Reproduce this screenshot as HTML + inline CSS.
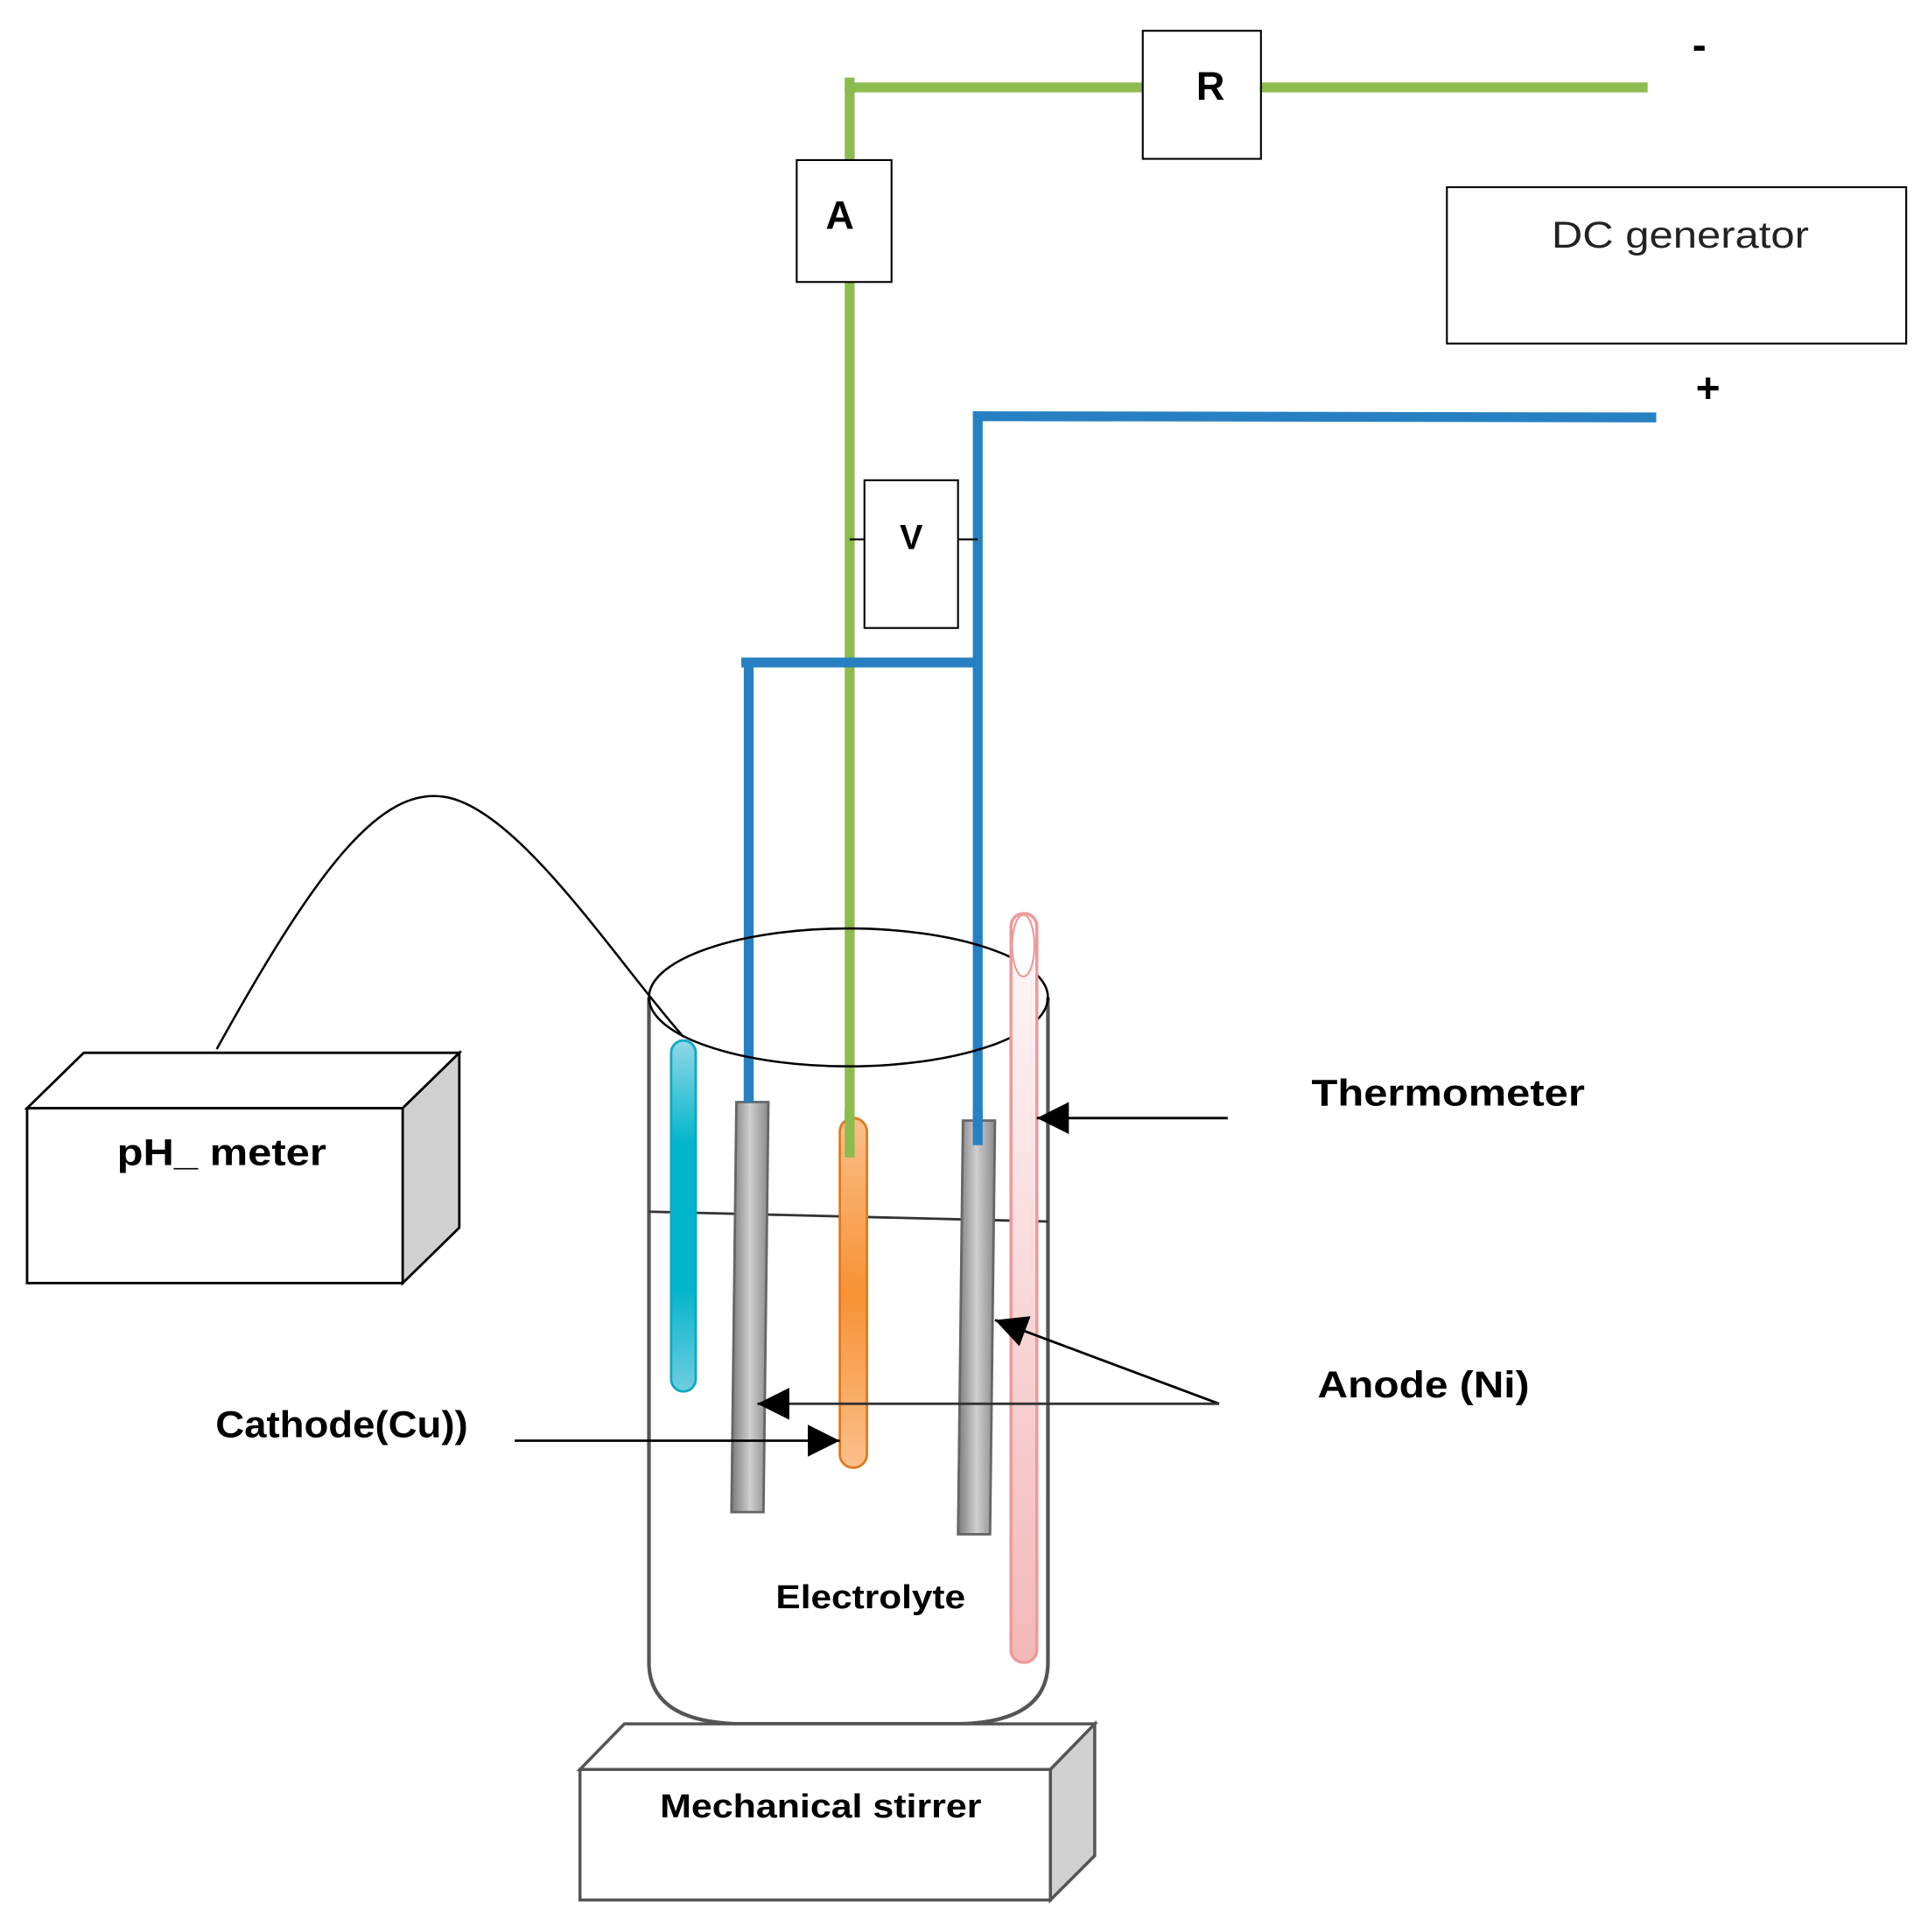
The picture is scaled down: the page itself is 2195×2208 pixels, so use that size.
<!DOCTYPE html>
<html><head><meta charset="utf-8"><style>
html,body{margin:0;padding:0;background:#fff}
svg{display:block}
text{font-family:"Liberation Sans",sans-serif}
</style></head><body>
<svg width="2195" height="2208" viewBox="0 0 1560 1569" preserveAspectRatio="none" xmlns="http://www.w3.org/2000/svg">
<defs>
<linearGradient id="gray" x1="0" x2="1"><stop offset="0" stop-color="#7a7a7a"/><stop offset="0.5" stop-color="#cfcfcf"/><stop offset="1" stop-color="#8a8a8a"/></linearGradient>
<linearGradient id="cyan" x1="0" y1="0" x2="0" y2="1"><stop offset="0" stop-color="#8fd8e6"/><stop offset="0.3" stop-color="#00b4cc"/><stop offset="0.7" stop-color="#00b4cc"/><stop offset="1" stop-color="#70cde0"/></linearGradient>
<linearGradient id="orange" x1="0" y1="0" x2="0" y2="1"><stop offset="0" stop-color="#fbbf8a"/><stop offset="0.5" stop-color="#f79234"/><stop offset="1" stop-color="#fbbf8a"/></linearGradient>
<linearGradient id="pink" x1="0" y1="0" x2="0" y2="1"><stop offset="0" stop-color="#fff8f8"/><stop offset="1" stop-color="#f3b8b8"/></linearGradient>
<marker id="arb" viewBox="0 0 10 10" refX="10" refY="5" markerWidth="26" markerHeight="26" markerUnits="userSpaceOnUse" orient="auto"><path d="M0,0L10,5L0,10z" fill="#000"/></marker>
</defs>

<polyline points="690,940 690,67 690,71 928,71" fill="none" stroke="#8cbb4e" stroke-width="8"/>
<line x1="690" y1="63" x2="690" y2="75" stroke="#8cbb4e" stroke-width="8"/>
<line x1="1024" y1="71" x2="1338" y2="71" stroke="#8cbb4e" stroke-width="8"/>
<rect x="928" y="25" width="96" height="104" fill="#fff" stroke="#000" stroke-width="1.5"/>
<text x="983" y="81" font-size="32" font-weight="bold" text-anchor="middle">R</text>
<rect x="647" y="130" width="77" height="99" fill="#fff" stroke="#000" stroke-width="1.5"/>
<text x="682" y="186" font-size="32" font-weight="bold" text-anchor="middle">A</text>

<text x="1380" y="48" font-size="34" font-weight="bold" text-anchor="middle">-</text>
<text x="1387" y="327" font-size="34" font-weight="bold" text-anchor="middle">+</text>
<rect x="1175" y="152" width="373" height="127" fill="#fff" stroke="#000" stroke-width="1.5"/>
<text x="1260" y="201" font-size="30" fill="#222" textLength="209" lengthAdjust="spacingAndGlyphs">DC generator</text>

<polyline points="1345,339 794,338 794,930" fill="none" stroke="#2780c2" stroke-width="8"/>
<polyline points="602,538 794,538" fill="none" stroke="#2780c2" stroke-width="8"/>
<line x1="608" y1="534" x2="608" y2="895" stroke="#2780c2" stroke-width="8"/>

<line x1="690" y1="438" x2="702" y2="438" stroke="#000" stroke-width="1.5"/>
<line x1="778" y1="438" x2="794" y2="438" stroke="#000" stroke-width="1.5"/>
<rect x="702" y="390" width="76" height="120" fill="#fff" stroke="#000" stroke-width="1.5"/>
<text x="740" y="446" font-size="28" font-weight="bold" text-anchor="middle">V</text>

<path d="M527,810 L527,1350 Q527,1398 600,1400 L780,1400 Q851,1398 851,1350 L851,810" fill="none" stroke="#555" stroke-width="3"/>
<ellipse cx="689" cy="810" rx="162" ry="56" fill="none" stroke="#000" stroke-width="1.8"/>
<line x1="527" y1="984" x2="851" y2="992" stroke="#333" stroke-width="2"/>

<path d="M176,852 C260,700 310,640 360,647 C420,655 500,780 555,842" fill="none" stroke="#000" stroke-width="1.8"/>
<polygon points="22,900 68,855 373,855 327,900" fill="#fff" stroke="#000" stroke-width="2"/>
<polygon points="327,900 373,855 373,997 327,1042" fill="#d0d0d0" stroke="#000" stroke-width="2"/>
<rect x="22" y="900" width="305" height="142" fill="#fff" stroke="#000" stroke-width="2"/>
<text x="95" y="946" font-size="30" font-weight="bold" textLength="170" lengthAdjust="spacingAndGlyphs">pH_ meter</text>

<rect x="545" y="845" width="20" height="285" rx="10" fill="url(#cyan)" stroke="#10a8c0" stroke-width="2"/>
<polygon points="598,895 624,895 620,1228 594,1228" fill="url(#gray)" stroke="#666" stroke-width="2"/>
<rect x="682" y="908" width="22" height="284" rx="11" fill="url(#orange)" stroke="#e07a20" stroke-width="2"/>
<polygon points="782,910 808,910 804,1246 778,1246" fill="url(#gray)" stroke="#666" stroke-width="2"/>
<rect x="821" y="742" width="21" height="608" rx="10" fill="url(#pink)" stroke="#ee9a9a" stroke-width="2.5"/>
<ellipse cx="831" cy="768" rx="9" ry="25" fill="#fff" stroke="#ee9a9a" stroke-width="1.5"/>
<line x1="608" y1="860" x2="608" y2="895" stroke="#2780c2" stroke-width="8"/>
<line x1="690" y1="900" x2="690" y2="940" stroke="#8cbb4e" stroke-width="8"/>
<line x1="794" y1="900" x2="794" y2="930" stroke="#2780c2" stroke-width="8"/>

<line x1="997" y1="908" x2="842" y2="908" stroke="#000" stroke-width="2" marker-end="url(#arb)"/>
<line x1="990" y1="1140" x2="808" y2="1072" stroke="#000" stroke-width="2" marker-end="url(#arb)"/>
<line x1="990" y1="1140" x2="615" y2="1140" stroke="#333" stroke-width="2" marker-end="url(#arb)"/>
<line x1="418" y1="1170" x2="682" y2="1170" stroke="#000" stroke-width="2" marker-end="url(#arb)"/>

<text x="1065" y="898" font-size="30" font-weight="bold" textLength="222" lengthAdjust="spacingAndGlyphs">Thermometer</text>
<text x="1070" y="1135" font-size="30" font-weight="bold" textLength="172" lengthAdjust="spacingAndGlyphs">Anode (Ni)</text>
<text x="175" y="1167" font-size="30" font-weight="bold" textLength="205" lengthAdjust="spacingAndGlyphs">Cathode(Cu))</text>
<text x="630" y="1306" font-size="27" font-weight="bold" textLength="154" lengthAdjust="spacingAndGlyphs">Electrolyte</text>

<polygon points="471,1437 507,1400 889,1400 853,1437" fill="#fff" stroke="#555" stroke-width="2.5"/>
<polygon points="853,1437 889,1400 889,1507 853,1543" fill="#d0d0d0" stroke="#555" stroke-width="2.5"/>
<rect x="471" y="1437" width="382" height="106" fill="#fff" stroke="#555" stroke-width="2.5"/>
<text x="536" y="1476" font-size="27" font-weight="bold" textLength="261" lengthAdjust="spacingAndGlyphs">Mechanical stirrer</text>
</svg>
</body></html>
